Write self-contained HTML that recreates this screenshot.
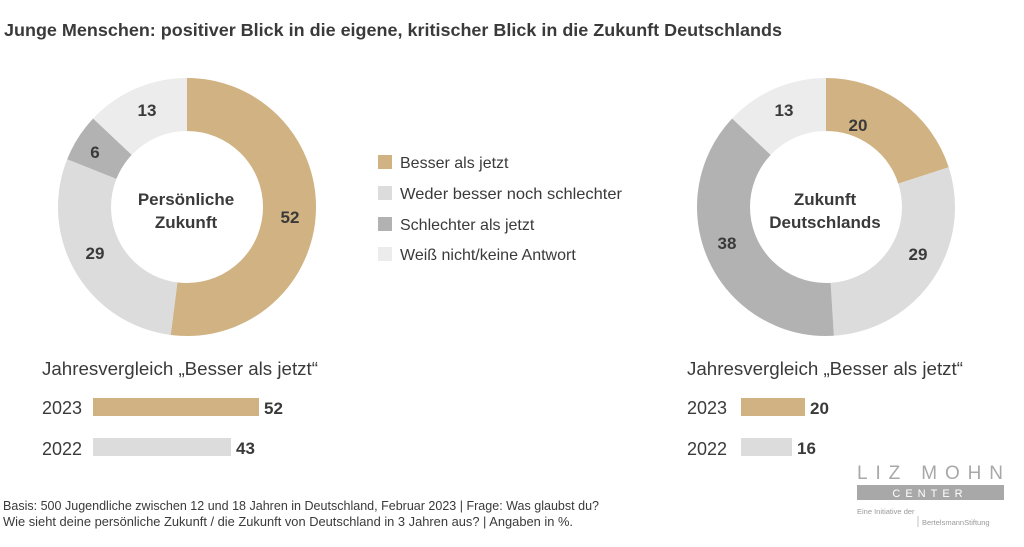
<!DOCTYPE html>
<html><head><meta charset="utf-8"><style>
body{margin:0;background:#fff;}
svg{display:block;font-family:"Liberation Sans",sans-serif;}
</style></head><body>
<svg width="1024" height="547" viewBox="0 0 1024 547">
<rect width="1024" height="547" fill="#fff"/>
<text x="4" y="36" font-size="17.5" font-weight="bold" fill="#3a3a3a" textLength="778" lengthAdjust="spacingAndGlyphs">Junge Menschen: positiver Blick in die eigene, kritischer Blick in die Zukunft Deutschlands</text>
<g transform="translate(187,207) rotate(-90)" fill="none" stroke-width="53">
<circle r="102.5" stroke="#d0b283" stroke-dasharray="334.9 400" stroke-dashoffset="0"/>
<circle r="102.5" stroke="#dcdcdc" stroke-dasharray="186.8 1000" stroke-dashoffset="-334.9"/>
<circle r="102.5" stroke="#b2b2b2" stroke-dasharray="38.6 1000" stroke-dashoffset="-521.7"/>
<circle r="102.5" stroke="#ececec" stroke-dasharray="83.7 1000" stroke-dashoffset="-560.3"/>
</g>
<g transform="translate(826,207) rotate(-90)" fill="none" stroke-width="53">
<circle r="102.5" stroke="#d0b283" stroke-dasharray="128.8 1000" stroke-dashoffset="0"/>
<circle r="102.5" stroke="#dcdcdc" stroke-dasharray="186.8 1000" stroke-dashoffset="-128.8"/>
<circle r="102.5" stroke="#b2b2b2" stroke-dasharray="244.7 1000" stroke-dashoffset="-315.6"/>
<circle r="102.5" stroke="#ececec" stroke-dasharray="83.7 1000" stroke-dashoffset="-560.3"/>
</g>
<g font-size="17" font-weight="bold" fill="#3a3a3a" text-anchor="middle">
<text x="290" y="223">52</text><text x="95" y="259">29</text><text x="95" y="158">6</text><text x="147" y="116">13</text>
<text x="858" y="131">20</text><text x="918" y="260">29</text><text x="727" y="249">38</text><text x="784" y="116">13</text>
<text x="186" y="205">Persönliche</text><text x="186" y="228">Zukunft</text>
<text x="825" y="205">Zukunft</text><text x="825" y="228">Deutschlands</text>
</g>
<g font-size="16" fill="#3a3a3a">
<rect x="378" y="155" width="14" height="14" fill="#d0b283"/><text x="400" y="168">Besser als jetzt</text>
<rect x="378" y="186" width="14" height="14" fill="#dcdcdc"/><text x="400" y="199" textLength="222" lengthAdjust="spacingAndGlyphs">Weder besser noch schlechter</text>
<rect x="378" y="217" width="14" height="14" fill="#b2b2b2"/><text x="400" y="230">Schlechter als jetzt</text>
<rect x="378" y="247" width="14" height="14" fill="#ececec"/><text x="400" y="260">Weiß nicht/keine Antwort</text>
</g>
<g font-size="18" fill="#3a3a3a">
<text x="42" y="375" textLength="276" lengthAdjust="spacingAndGlyphs">Jahresvergleich „Besser als jetzt“</text>
<text x="42" y="414">2023</text><text x="42" y="455">2022</text>
<text x="687" y="375" textLength="276" lengthAdjust="spacingAndGlyphs">Jahresvergleich „Besser als jetzt“</text>
<text x="687" y="414">2023</text><text x="687" y="455">2022</text>
</g>
<rect x="93" y="398" width="166" height="18" fill="#d0b283"/>
<rect x="93" y="438" width="138" height="18" fill="#dcdcdc"/>
<rect x="741" y="398" width="64" height="18" fill="#d0b283"/>
<rect x="741" y="438" width="51" height="18" fill="#dcdcdc"/>
<g font-size="17" font-weight="bold" fill="#3a3a3a">
<text x="264" y="414">52</text><text x="236" y="454">43</text>
<text x="810" y="414">20</text><text x="797" y="454">16</text>
</g>
<g font-size="12.5" fill="#3a3a3a">
<text x="3" y="510" textLength="596" lengthAdjust="spacingAndGlyphs">Basis: 500 Jugendliche zwischen 12 und 18 Jahren in Deutschland, Februar 2023 | Frage: Was glaubst du?</text>
<text x="3" y="526" textLength="570" lengthAdjust="spacingAndGlyphs">Wie sieht deine persönliche Zukunft / die Zukunft von Deutschland in 3 Jahren aus? | Angaben in %.</text>
</g>
<text x="857" y="479" font-size="19" fill="#a8a8a8" textLength="146" lengthAdjust="spacing">LIZ MOHN</text>
<rect x="857" y="485" width="147" height="15" fill="#a8a8a8"/>
<text x="930" y="497" font-size="11" fill="#fff" text-anchor="middle" letter-spacing="5">CENTER</text>
<text x="857" y="514" font-size="7.5" fill="#999">Eine Initiative der</text>
<line x1="918" y1="516" x2="918" y2="527" stroke="#aaa" stroke-width="0.7"/>
<text x="922" y="525" font-size="7.5" fill="#999">BertelsmannStiftung</text>
</svg>
</body></html>
